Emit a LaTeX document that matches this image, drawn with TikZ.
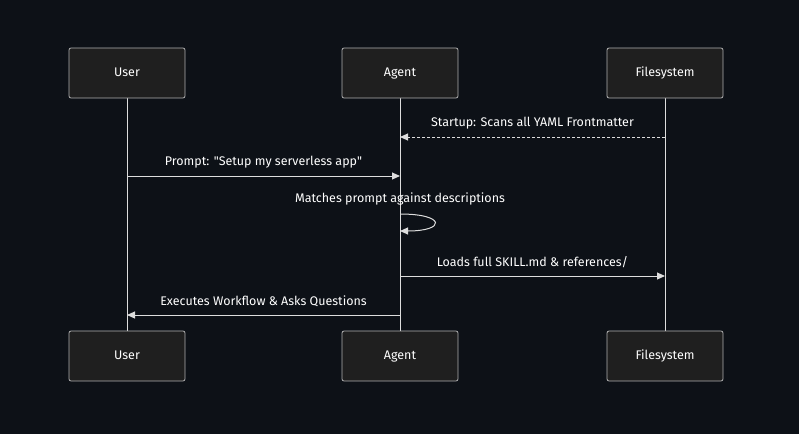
\documentclass[tikz,border=0pt]{standalone}
\usepackage{fontspec}
\setmainfont{Fira Sans}
\usetikzlibrary{arrows.meta}
\definecolor{bgdark}{HTML}{0D1117}
\definecolor{boxfill}{HTML}{1F1F1F}
\definecolor{boxline}{HTML}{B0B0B0}
\definecolor{msgline}{HTML}{DDDDDD}
\begin{document}
\begin{tikzpicture}[
        x=1pt, y=-1pt,
        actor/.style={rectangle, draw=boxline, fill=boxfill, text=white, text centered, font=\fontsize{12.5}{14}\selectfont, minimum width=116pt, minimum height=50pt, rounded corners=2pt, line width=0.8pt, text height=6pt, text depth=0pt},
        lifeline/.style={draw=msgline, line width=1pt},
        msg/.style={draw=msgline, line width=1pt, -{Triangle[length=8pt,width=7pt]}},
        reply/.style={msg, dash pattern=on 3pt off 2pt},
        msglabel/.style={text=white, font=\fontsize{12.5}{14}\selectfont}
    ]
        % Background
        \fill[bgdark] (0,0) rectangle (799,434);
        \useasboundingbox (0,0) rectangle (799,434);

        % Lifelines (drawn first, boxes on top)
        \coordinate (top) at (0,98);
        \coordinate (bottom) at (0,331);
        \coordinate (xuser) at (127,0);
        \coordinate (xagent) at (400,0);
        \coordinate (xfs) at (665,0);
        \path[lifeline] (xuser |- top) -- (xuser |- bottom);
        \path[lifeline] (xagent |- top) -- (xagent |- bottom);
        \path[lifeline] (xfs |- top) -- (xfs |- bottom);

        % Actors
        \node[actor] (usertop) at (127, 73) {User};
        \node[actor] (agenttop) at (400, 73) {Agent};
        \node[actor] (fstop) at (665, 73) {Filesystem};
        \node[actor] (userbot) at (127, 356) {User};
        \node[actor] (agentbot) at (400, 356) {Agent};
        \node[actor] (fsbot) at (665, 356) {Filesystem};

        % Message rows
        \coordinate (m1) at (0,137);
        \coordinate (m2) at (0,176);
        \coordinate (m3a) at (0,214);
        \coordinate (m3b) at (0,231);
        \coordinate (m4) at (0,276);
        \coordinate (m5) at (0,315);

        % Messages
        \path[reply] (fstop |- m1) -- node[msglabel, above=4pt] {Startup: Scans all YAML Frontmatter} (agenttop |- m1);
        \path[msg] (usertop |- m2) -- node[msglabel, above=4pt] {Prompt: \textquotedbl Setup my serverless app\textquotedbl} (agenttop |- m2);
        \node[msglabel] (selflbl) at (400, 199) {Matches prompt against descriptions};
        \path[msg] (agenttop |- m3a) .. controls +(46,0) and +(46,0) .. (agenttop |- m3b);
        \path[msg] (agenttop |- m4) -- node[msglabel, above=4pt] {Loads full SKILL.md \& references/} (fstop |- m4);
        \path[msg] (agenttop |- m5) -- node[msglabel, above=4pt] {Executes Workflow \& Asks Questions} (usertop |- m5);
    \end{tikzpicture}
\end{document}
